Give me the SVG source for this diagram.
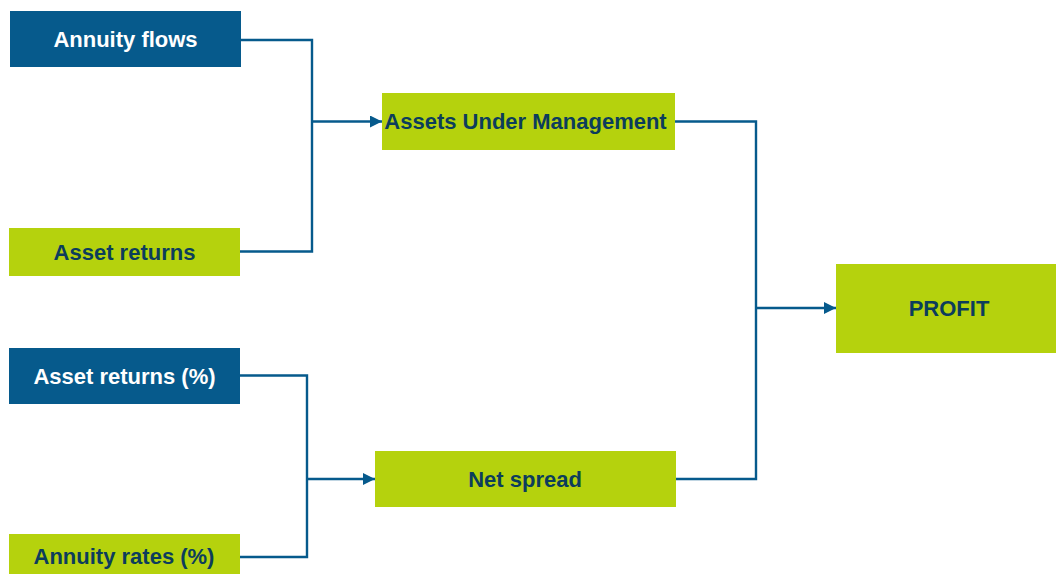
<svg xmlns="http://www.w3.org/2000/svg" width="1056" height="574" viewBox="0 0 1056 574">
  <style>
    .blue { fill: #065a8c; }
    .green { fill: #b5d20d; }
    .lbl { font-family: "Liberation Sans", Arial, sans-serif; font-weight: bold; font-size: 22px; text-anchor: middle; }
    .light { fill: #ffffff; }
    .dark { fill: #0c3d5c; }
    .wire { fill: none; stroke: #065a8c; stroke-width: 2.4; }
  </style>
  <defs>
    <marker id="arrow" markerUnits="userSpaceOnUse" markerWidth="12" markerHeight="12" refX="12" refY="6" orient="auto">
      <path d="M0,0 L12,6 L0,12 Z" fill="#065a8c"/>
    </marker>
  </defs>
  <rect width="1056" height="574" fill="#ffffff"/>

  <!-- connectors -->
  <g id="connectors">
    <path class="wire" d="M241,40 H312 V251.5 H240"/>
    <path class="wire" d="M312,121.5 H382" marker-end="url(#arrow)"/>
    <path class="wire" d="M675,121.5 H756 V479 H676"/>
    <path class="wire" d="M756,308 H836" marker-end="url(#arrow)"/>
    <path class="wire" d="M240,375.5 H307 V557 H240"/>
    <path class="wire" d="M307,479 H375" marker-end="url(#arrow)"/>
  </g>

  <g id="annuity-flows">
    <rect class="blue" x="10" y="11" width="231" height="56"/>
    <text class="lbl light" x="125.5" y="47">Annuity flows</text>
  </g>
  <g id="asset-returns">
    <rect class="green" x="9" y="228" width="231" height="48"/>
    <text class="lbl dark" x="124.5" y="260">Asset returns</text>
  </g>
  <g id="assets-under-management">
    <rect class="green" x="382" y="93" width="293" height="57"/>
    <text class="lbl dark" x="525.5" y="129">Assets Under Management</text>
  </g>
  <g id="profit">
    <rect class="green" x="836" y="264" width="220" height="89"/>
    <text class="lbl dark" x="949" y="316">PROFIT</text>
  </g>
  <g id="asset-returns-pct">
    <rect class="blue" x="9" y="348" width="231" height="56"/>
    <text class="lbl light" x="124.5" y="383.5">Asset returns (%)</text>
  </g>
  <g id="annuity-rates-pct">
    <rect class="green" x="9" y="534" width="231" height="46"/>
    <text class="lbl dark" x="124" y="564">Annuity rates (%)</text>
  </g>
  <g id="net-spread">
    <rect class="green" x="375" y="451" width="301" height="56"/>
    <text class="lbl dark" x="525" y="487">Net spread</text>
  </g>
</svg>
